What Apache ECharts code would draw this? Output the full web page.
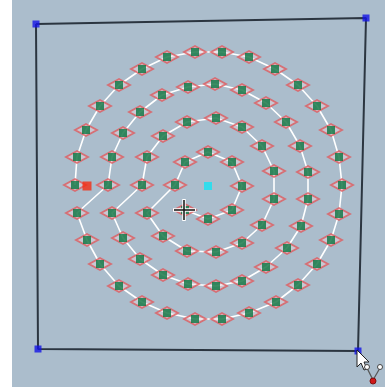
<!DOCTYPE html>
<html>
<head>
<meta charset="utf-8">
<script src="https://cdn.jsdelivr.net/npm/echarts@6/dist/echarts.min.js"></script>
<style>
    html, body { margin: 0; padding: 0; background: #ffffff; }
    #main { width: 385px; height: 387px; }
</style>
</head>
<body>
<div id="main"></div>
<script>
// spiral points, in units from the centre (x right, y up), ring by ring
var ring1 = [[-23,-24],[0,-33],[24,-24],[34,0],[24,24],[0,34],[-23,24],[-33,1]];
var ring2 = [[-61,-27],[-45,-50],[-21,-65],[8,-66],[34,-57],[54,-39],[66,-13],[66,15],
    [54,40],[34,59],[8,68],[-21,64],[-45,50],[-61,29],[-66,1]];
var ring3 = [[-96,-27],[-85,-52],[-68,-73],[-45,-89],[-20,-98],[8,-100],[34,-95],[58,-81],
    [79,-62],[93,-40],[100,-13],[100,14],[92,40],[78,64],[58,83],[34,96],[7,102],[-20,99],
    [-46,91],[-68,74],[-85,53],[-96,29],[-100,1]];
var ring4 = [[-131,-27],[-121,-54],[-108,-78],[-89,-100],[-66,-116],[-41,-127],[-13,-133],
    [14,-133],[41,-127],[68,-116],[90,-99],[109,-78],[123,-54],[131,-28],[134,1],[131,29],
    [123,56],[109,80],[90,101],[67,117],[41,129],[14,134],[-13,134],[-41,129],[-66,117],
    [-89,101],[-108,80],[-122,56],[-131,29],[-133,1]];
var frameCorners = [[-172,162],[158,168],[150,-165],[-170,-163]];
var endPoint = [[-121,0]];
var centrePoint = [[0,0]];

var spiral = ring1.concat(ring2, ring3, ring4);

var myChart = echarts.init(document.getElementById('main'));

option = {
    backgroundColor: '#abbdcc',
    animation: false,
    grid: { left: 0, right: 0, top: 0, bottom: 0 },
    xAxis: { type: 'value', min: -208, max: 177, show: false },
    yAxis: { type: 'value', min: -201, max: 186, show: false },
    graphic: {
        z: 100,
        elements: [
            // white strip on the left
            { type: 'rect', left: 0, top: 0, z: -10, shape: { width: 12, height: 387 }, style: { fill: '#ffffff' } },
            // crosshair cursor
            { type: 'line', z: 100, shape: { x1: 173, y1: 210, x2: 196, y2: 210 }, style: { stroke: '#ffffff', lineWidth: 3.5 } },
            { type: 'line', z: 100, shape: { x1: 184, y1: 199, x2: 184, y2: 221 }, style: { stroke: '#ffffff', lineWidth: 3.5 } },
            { type: 'line', z: 101, shape: { x1: 174, y1: 210, x2: 195, y2: 210 }, style: { stroke: '#111111', lineWidth: 1.5 } },
            { type: 'line', z: 101, shape: { x1: 184, y1: 200, x2: 184, y2: 220 }, style: { stroke: '#111111', lineWidth: 1.5 } },
            // mouse pointer + little icon
            { type: 'polygon', z: 100, shape: { points: [[357,350],[357,367],[361,363],[364,370],[367,369],[364,362],[369,362]] },
              style: { fill: '#ffffff', stroke: '#222222', lineWidth: 1 } },
            { type: 'line', z: 100, shape: { x1: 367, y1: 368, x2: 373, y2: 380 }, style: { stroke: '#555555', lineWidth: 1.2 } },
            { type: 'line', z: 100, shape: { x1: 380, y1: 368, x2: 373, y2: 380 }, style: { stroke: '#555555', lineWidth: 1.2 } },
            { type: 'circle', z: 101, shape: { cx: 367, cy: 367, r: 2.5 }, style: { fill: '#ffffff', stroke: '#444444', lineWidth: 1 } },
            { type: 'circle', z: 101, shape: { cx: 380, cy: 367, r: 2.5 }, style: { fill: '#ffffff', stroke: '#444444', lineWidth: 1 } },
            { type: 'circle', z: 101, shape: { cx: 373, cy: 381, r: 3 }, style: { fill: '#d01818', stroke: '#801010', lineWidth: 1 } }
        ]
    },
    series: [
        {
            name: 'frame',
            type: 'line',
            data: frameCorners.concat([frameCorners[0]]),
            symbol: 'none',
            lineStyle: { color: '#2b3540', width: 2 },
            z: 1
        },
        {
            name: 'corners',
            type: 'scatter',
            data: frameCorners,
            symbol: 'rect',
            symbolSize: 7,
            itemStyle: { color: '#1414e6' },
            z: 2
        },
        {
            name: 'path',
            type: 'line',
            data: spiral,
            symbol: 'none',
            lineStyle: { color: '#ffffff', width: 1.6 },
            z: 3
        },
        {
            name: 'marks',
            type: 'scatter',
            data: spiral,
            symbol: 'path://M0,5 L10,0 L20,5 L10,10 Z',
            symbolSize: [22, 12],
            itemStyle: { color: 'rgba(240,215,220,0.55)', borderColor: '#df5a5e', borderWidth: 2 },
            z: 4
        },
        {
            name: 'nodes',
            type: 'scatter',
            data: spiral,
            symbol: 'rect',
            symbolSize: 8,
            itemStyle: { color: '#0b7440' },
            z: 5
        },
        {
            name: 'end',
            type: 'scatter',
            data: endPoint,
            symbol: 'rect',
            symbolSize: 9,
            itemStyle: { color: '#f52a10' },
            z: 6
        },
        {
            name: 'centre',
            type: 'scatter',
            data: centrePoint,
            symbol: 'rect',
            symbolSize: 8,
            itemStyle: { color: '#14e4f4' },
            z: 6
        }
    ]
};

myChart.setOption(option);
window.addEventListener('resize', function () { myChart.resize(); })
</script>
</body>
</html>
